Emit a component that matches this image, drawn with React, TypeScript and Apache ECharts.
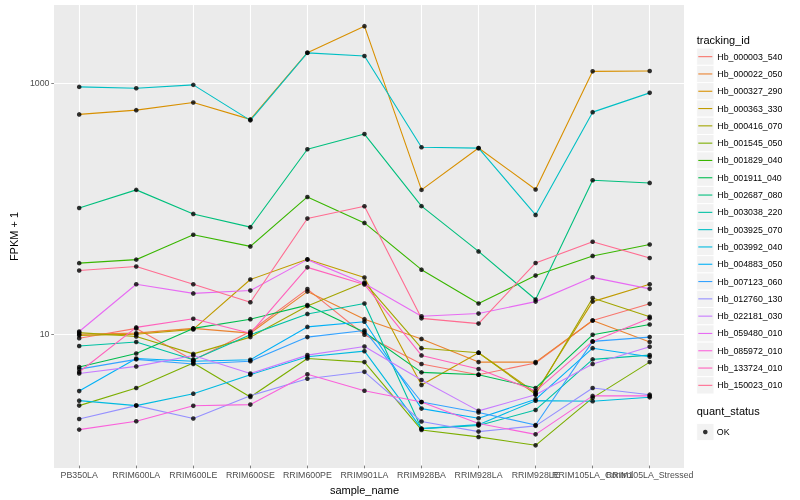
import React, { useEffect, useRef } from 'react';
import * as echarts from 'echarts';

const categories = [
  'PB350LA', 'RRIM600LA', 'RRIM600LE', 'RRIM600SE', 'RRIM600PE', 'RRIM901LA',
  'RRIM928BA', 'RRIM928LA', 'RRIM928LE', 'RRIM105LA_Control', 'RRIM105LA_Stressed',
];

const trackingIds = [
  'Hb_000003_540', 'Hb_000022_050', 'Hb_000327_290', 'Hb_000363_330', 'Hb_000416_070',
  'Hb_001545_050', 'Hb_001829_040', 'Hb_001911_040', 'Hb_002687_080', 'Hb_003038_220',
  'Hb_003925_070', 'Hb_003992_040', 'Hb_004883_050', 'Hb_007123_060', 'Hb_012760_130',
  'Hb_022181_030', 'Hb_059480_010', 'Hb_085972_010', 'Hb_133724_010', 'Hb_150023_010',
];

const palette = [
  '#F8766D', '#EA8331', '#D89000', '#C09B00', '#A3A500', '#7CAE00', '#39B600', '#00BB4E',
  '#00BF7D', '#00C1A3', '#00BFC4', '#00BAE0', '#00B0F6', '#35A2FF', '#9590FF', '#C77CFF',
  '#E76BF3', '#FA62DB', '#FF62BC', '#FF6C91',
];

// FPKM + 1 per sample, one row per tracking_id (same order as trackingIds)
const seriesValues: number[][] = [
  [9.0, 10.8, 6.0, 10.2, 22.3, 9.6, 5.6, 4.6, 5.7, 12.5, 17.0],
  [9.7, 9.9, 10.8, 9.9, 21.3, 12.8, 8.9, 5.8, 5.8, 12.5, 8.4],
  [559, 605, 697, 510, 1744, 2846, 139, 301, 140, 1237, 1246],
  [9.5, 9.7, 10.6, 26.6, 38.6, 27.6, 3.8, 6.9, 3.3, 17.7, 24.4],
  [10.0, 9.3, 6.75, 9.2, 16.3, 25.2, 7.5, 6.9, 3.2, 18.9, 13.4],
  [2.6, 3.6, 5.7, 3.05, 6.2, 5.8, 1.66, 1.46, 1.25, 3.0, 5.8],
  [36.0, 38.4, 60.7, 49.0, 122, 75.6, 31.9, 17.1, 28.6, 41.1, 50.8],
  [5.3, 6.8, 10.8, 12.8, 16.6, 10.05, 4.8, 4.6, 3.6, 9.6, 11.6],
  [99.6, 139, 89.2, 69.9, 294, 389, 103, 44.7, 18.4, 166, 158],
  [7.8, 8.4, 6.05, 9.6, 14.1, 17.1, 1.7, 1.8, 2.4, 6.1, 6.6],
  [929, 906, 964, 501, 1740, 1641, 305, 300, 87.6, 583, 832],
  [2.85, 2.6, 3.24, 4.6, 6.4, 7.1, 1.7, 1.83, 2.85, 2.82, 3.03],
  [3.4, 6.2, 5.9, 6.05, 11.1, 12.2, 2.46, 2.06, 2.92, 7.5, 6.4],
  [5.1, 6.1, 5.6, 5.9, 9.2, 10.4, 2.78, 2.29, 1.82, 8.5, 9.2],
  [2.03, 2.6, 2.05, 3.12, 4.27, 4.85, 1.94, 1.61, 1.79, 3.6, 3.18],
  [4.7, 5.36, 6.56, 4.7, 6.6, 7.74, 4.17, 2.36, 3.18, 5.6, 7.7],
  [10.2, 24.4, 20.6, 21.7, 38.4, 24.7, 13.5, 14.2, 17.7, 27.7, 22.4],
  [1.67, 1.95, 2.59, 2.65, 4.63, 3.42, 2.78, 1.87, 1.53, 3.11, 3.11],
  [4.83, 11.0, 12.9, 9.87, 33.3, 24.3, 6.56, 5.1, 3.4, 8.5, 13.0],
  [31.4, 33.8, 24.4, 17.5, 81.9, 102.8, 13.0, 11.8, 36.1, 53.4, 39.6],
];

const yMajorBreaks = [10, 1000];
const quantStatus = ['OK'];

const Y_MIN = 0.86;
const Y_MAX = 4206;

export default function App() {
  const ref = useRef<HTMLDivElement>(null);

  useEffect(() => {
    if (!ref.current) return;
    const chart = echarts.init(ref.current, null, { renderer: 'svg' });
    const font = '"Liberation Sans", Arial, Helvetica, sans-serif';

    const lineSeries = trackingIds.map((id, i) => ({
      name: id,
      type: 'line',
      xAxisIndex: 1,
      yAxisIndex: 1,
      data: seriesValues[i],
      symbol: 'none',
      showSymbol: false,
      silent: true,
      lineStyle: { color: palette[i], width: 1.1 },
      itemStyle: { color: palette[i] },
      z: 2,
    }));

    const points: number[][] = [];
    seriesValues.forEach((vals) => vals.forEach((v, j) => points.push([j, v])));

    const keyX = 696.7;
    const keyTop = 48;
    const keySize = 17.3;
    const keyRects: any[] = trackingIds.map((_, i) => ({
      type: 'rect',
      shape: { x: keyX, y: keyTop + i * keySize, width: keySize, height: keySize },
      style: { fill: '#F2F2F2', stroke: '#FFFFFF', lineWidth: 1 },
      z: 1,
      silent: true,
    }));
    keyRects.push({
      type: 'rect',
      shape: { x: keyX, y: 432 - keySize / 2, width: keySize, height: keySize },
      style: { fill: '#F2F2F2', stroke: '#FFFFFF', lineWidth: 1 },
      z: 1,
      silent: true,
    });

    chart.setOption({
      animation: false,
      color: palette,
      textStyle: { fontFamily: font },
      title: [
        {
          text: 'tracking_id', left: 696.7, top: 34.5, padding: 0,
          textStyle: { fontSize: 11, fontWeight: 'normal', color: '#000000', fontFamily: font },
        },
        {
          text: 'quant_status', left: 696.7, top: 405.5, padding: 0,
          textStyle: { fontSize: 11, fontWeight: 'normal', color: '#000000', fontFamily: font },
        },
      ],
      legend: [
        {
          orient: 'vertical', left: 698.3, top: keyTop, padding: 0,
          itemWidth: 14, itemHeight: keySize, itemGap: 0,
          icon: 'path://M0,0h14v1.1h-14z',
          selectedMode: false,
          data: trackingIds,
          textStyle: { fontSize: 8.8, lineHeight: keySize, color: '#000000', fontFamily: font },
        },
        {
          orient: 'vertical', left: 703, top: 432 - keySize / 2, padding: 0,
          itemWidth: 4.6, itemHeight: 4.6, itemGap: 0,
          icon: 'circle',
          selectedMode: false,
          data: quantStatus,
          textStyle: { fontSize: 8.8, lineHeight: keySize, color: '#000000', fontFamily: font, padding: [0, 0, 0, 4.2] },
        },
      ],
      grid: [
        { left: 45, top: 5, width: 639, height: 463, show: true, backgroundColor: '#EBEBEB', borderWidth: 0 },
        { left: 79.2, top: 5, width: 570.5, height: 463, show: false },
      ],
      xAxis: [
        { type: 'value', gridIndex: 0, min: 0, max: 1, show: false },
        {
          type: 'category', gridIndex: 1, data: categories, boundaryGap: false,
          axisLine: { show: false },
          axisTick: { show: true, length: 2.7, lineStyle: { color: '#333333', width: 0.6 } },
          axisLabel: { interval: 0, color: '#4D4D4D', fontSize: 8.8, margin: 4.5, fontFamily: font },
          splitLine: { show: true, lineStyle: { color: '#FFFFFF', width: 1.1 } },
          name: 'sample_name', nameLocation: 'middle', nameGap: 14,
          nameTextStyle: { fontSize: 11, color: '#000000', fontFamily: font },
        },
      ],
      yAxis: [
        {
          type: 'log', logBase: 10, gridIndex: 0, min: Y_MIN, max: Y_MAX,
          axisLine: { show: false },
          axisTick: { show: true, length: 2.7, lineStyle: { color: '#333333', width: 0.6 }, customValues: yMajorBreaks },
          axisLabel: {
            color: '#4D4D4D', fontSize: 8.8, margin: 4.5, fontFamily: font,
            customValues: yMajorBreaks,
            formatter: (v: number) => {
              const r = Math.round(v);
              return yMajorBreaks.includes(r) && Math.abs(v - r) < 0.01 ? String(r) : '';
            },
          },
          splitLine: { show: true, lineStyle: { color: '#FFFFFF', width: 0.55 } },
          minorTick: { show: false },
          name: 'FPKM + 1', nameLocation: 'middle', nameGap: 27, nameRotate: 90,
          nameTextStyle: { fontSize: 11, color: '#000000', fontFamily: font },
        },
        { type: 'log', logBase: 10, gridIndex: 1, min: Y_MIN, max: Y_MAX, show: false },
      ],
      graphic: keyRects,
      series: [
        {
          name: 'major-grid',
          type: 'line',
          xAxisIndex: 0,
          yAxisIndex: 0,
          data: [],
          symbol: 'none',
          silent: true,
          z: 1,
          markLine: {
            silent: true,
            symbol: 'none',
            z: 1,
            label: { show: false },
            lineStyle: { color: '#FFFFFF', width: 1.1, type: 'solid' },
            emphasis: { disabled: true },
            data: yMajorBreaks.map((b) => ({ yAxis: b })),
          },
        },
        ...lineSeries,
        {
          name: 'OK',
          type: 'scatter',
          xAxisIndex: 1,
          yAxisIndex: 1,
          data: points,
          symbol: 'circle',
          symbolSize: 4.6,
          itemStyle: { color: '#000000' },
          silent: true,
          z: 3,
        },
      ],
    });

    return () => chart.dispose();
  }, []);

  return <div ref={ref} style={{ position: 'fixed', left: 0, top: 0, width: 800, height: 500 }} />;
}
